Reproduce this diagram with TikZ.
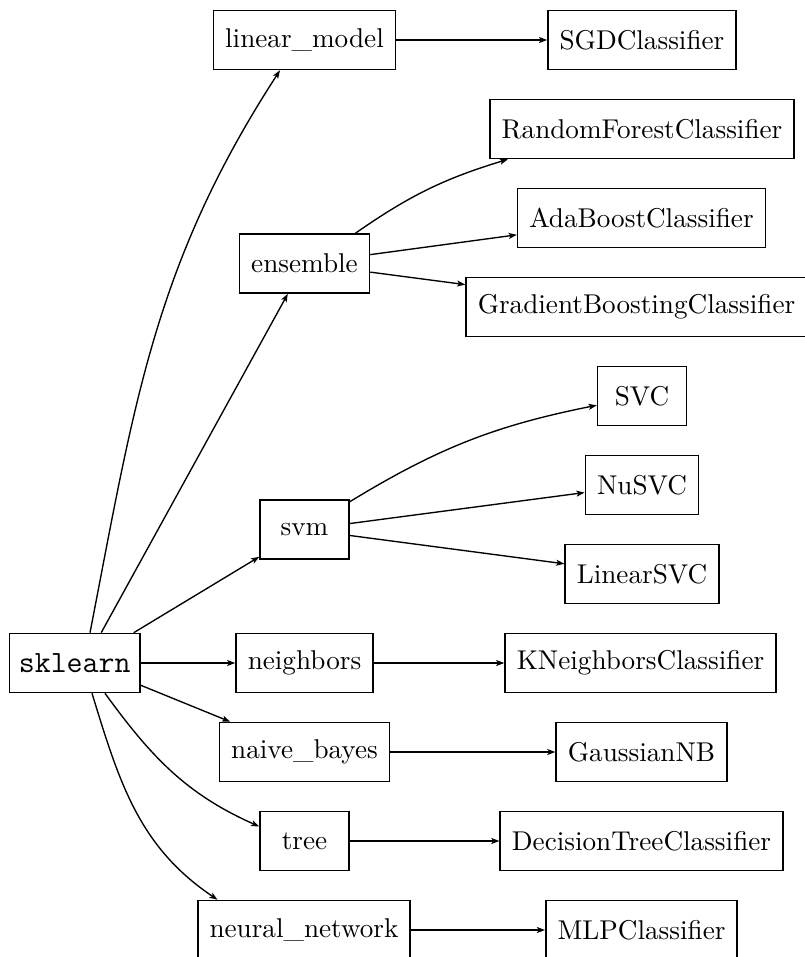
\documentclass[tikz,border=0pt]{standalone}
\usepackage{fontspec}
\usetikzlibrary{arrows.meta,calc}
\begin{document}
\begin{tikzpicture}[x=0.368pt,y=0.368pt,
  box/.style={draw, line width=0.6pt, rectangle, minimum height=21.7pt,
    minimum width=32.7pt, inner xsep=4.3pt, inner ysep=0pt},
  arr/.style={line width=0.5pt, -{Stealth[length=3pt,width=2.2pt,inset=0.7pt]}}]
\useasboundingbox (0,0) rectangle (805,-957);

% root
\node[box, font=\fontsize{11.4}{13}\ttfamily, inner xsep=2pt, minimum width=48.1pt] (sk) at (74.7,-663) {sklearn};

% modules
\node[box] (lm)   at (304.5,-40)    {linear\_model};
\node[box] (ens)  at (304.5,-263.5) {ensemble};
\node[box] (svm)  at (304.5,-529.5) {svm};
\node[box] (nbr)  at (304.5,-663)   {neighbors};
\node[box] (nvb)  at (304.5,-752)   {naive\_bayes};
\node[box] (tree) at (304.5,-841)   {tree};
\node[box] (nn)   at (304,-930)     {neural\_network};

% estimators
\node[box] (sgd)   at (642,-40)    {SGDClassifier};
\node[box] (rf)    at (642,-129)   {RandomForestClassifier};
\node[box] (ada)   at (641.5,-218) {AdaBoostClassifier};
\node[box] (gb)    at (636.5,-307) {GradientBoostingClassifier};
\node[box] (svc)   at (642,-396)   {SVC};
\node[box] (nusvc) at (642,-485)   {NuSVC};
\node[box] (lsvc)  at (642,-574)   {LinearSVC};
\node[box] (knn)   at (640.5,-663) {KNeighborsClassifier};
\node[box] (gnb)   at (641.5,-752) {GaussianNB};
\node[box] (dtc)   at (641.5,-841) {DecisionTreeClassifier};
\node[box] (mlp)   at (641.5,-930) {MLPClassifier};

% root to modules
\draw[arr] ($(sk.north)+(15.3,0)$) to[out=79,in=237] ($(lm.south)+(-24.5,0)$);
\draw[arr] ($(sk.north)+(26.5,0)$) -- (ens);
\draw[arr] ($(sk.north)+(59,0)$) -- (svm);
\draw[arr] (sk) -- (nbr);
\draw[arr] ($(sk.east)+(0,-22.3)$) -- (nvb);
\draw[arr] ($(sk.south)+(30.3,0)$) to[out=-54,in=156] ($(tree.west)+(0,14.5)$);
\draw[arr] ($(sk.south)+(17.3,0)$) to[out=-73,in=146] ($(nn.north)+(-86.5,0)$);

% modules to estimators
\draw[arr] (lm) -- (sgd);
\draw[arr] (ens) to[bend left=9] (rf);
\draw[arr] (ens) -- (ada);
\draw[arr] (ens) -- (gb);
\draw[arr] (svm) to[bend left=10] (svc);
\draw[arr] (svm) -- (nusvc);
\draw[arr] (svm) -- (lsvc);
\draw[arr] (nbr) -- (knn);
\draw[arr] (nvb) -- (gnb);
\draw[arr] (tree) -- (dtc);
\draw[arr] (nn) -- (mlp);
\end{tikzpicture}
\end{document}
